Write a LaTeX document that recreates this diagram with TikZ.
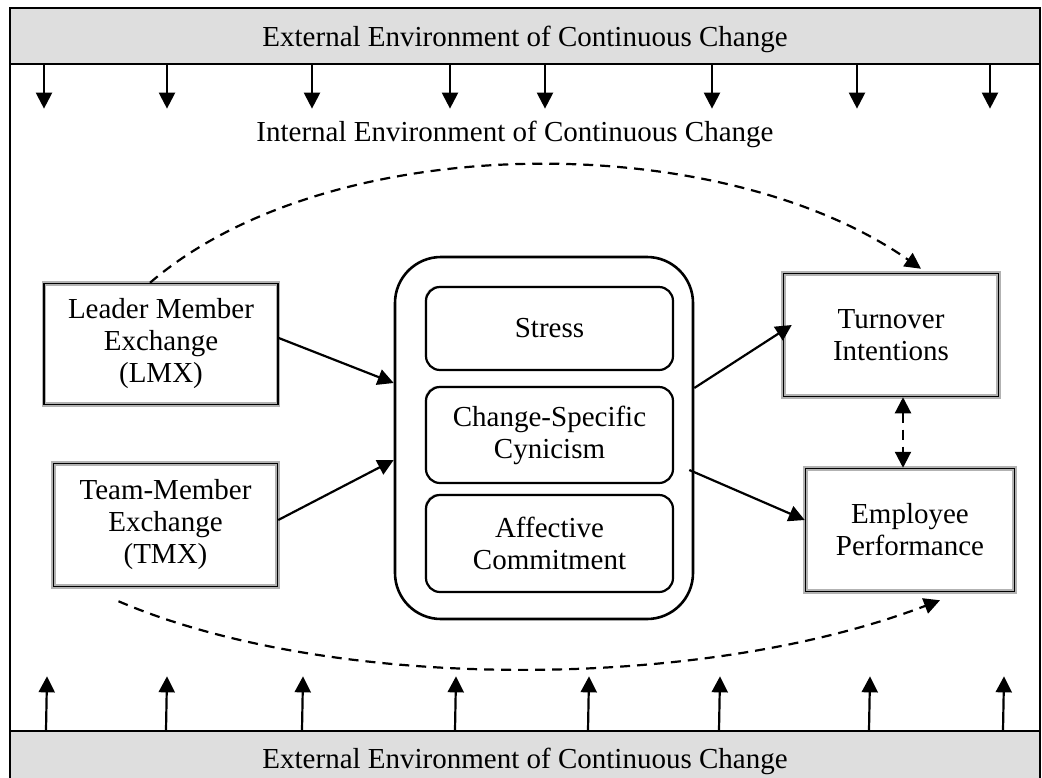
\documentclass[tikz,border=0pt]{standalone}
\usepackage{fontspec}
\setmainfont{Liberation Serif}
\usetikzlibrary{arrows.meta,calc,shadows}
\begin{document}
\begin{tikzpicture}[x=1pt,y=-1pt,
  txt/.style={font=\fontsize{29}{32}\selectfont, align=center},
  bar/.style={txt, draw=black, line width=1.3pt, fill=black!13, inner sep=0pt},
  dbox/.style={txt, draw=gray!60, line width=1.5pt, double=black, double distance=1.6pt, fill=white, inner sep=0pt,
     drop shadow={fill=black, opacity=1, shadow xshift=2.2pt, shadow yshift=-2.2pt}},
  rbox/.style={txt, draw=black, line width=2.2pt, rounded corners=14pt, fill=white, inner sep=0pt,
     drop shadow={fill=gray!60, opacity=1, shadow xshift=-1.2pt, shadow yshift=1.2pt}},
  bigbox/.style={draw=black, line width=2.6pt, rounded corners=46pt, fill=white, inner sep=0pt},
  arr/.style={line width=2.2pt, -{Triangle[length=16pt,width=16pt]}},
  darr/.style={line width=2.2pt, dash pattern=on 10pt off 7pt, -{Triangle[length=16pt,width=16pt]}},
]
\useasboundingbox (0,0) rectangle (1042,777);
\fill[white] (0,0) rectangle (1042,777);

% frame
\draw[line width=1.3pt] (10,60) -- (10,735);
\draw[line width=1.3pt] (1040,60) -- (1040,735);

\node[bar, minimum width=1030pt, minimum height=56pt, text height=22pt, text depth=2pt] (topbar) at (525,36) {External Environment of Continuous Change};
\node[bar, minimum width=1030pt, minimum height=50pt, text height=28pt, text depth=4pt] (botbar) at (525,756) {External Environment of Continuous Change};

\node[txt] (internal) at (515,134) {Internal Environment of Continuous Change};

% down arrows
\foreach \x in {44,167,312,450,545,712,857,990}
  \draw[arr] (topbar.south -| \x,0) -- ++(0,44);
% up arrows
\foreach \x in {46,166,302,455,588,719,869,1003}
  \draw[arr] (botbar.north -| \x,0) -- ++(1,-54);

% left boxes
\node[dbox, minimum width=234pt, minimum height=121pt] (lmx) at (161,344) {Leader Member\\Exchange\\(LMX)};
\node[dbox, minimum width=224pt, minimum height=123pt] (tmx) at (165.5,525) {Team-Member\\Exchange\\(TMX)};

% right boxes
\node[dbox, minimum width=215pt, minimum height=123pt] (turn) at (891,335) {Turnover\\Intentions};
\node[dbox, minimum width=209pt, minimum height=123pt] (perf) at (910,530) {Employee\\Performance};

% central
\node[bigbox, minimum width=298pt, minimum height=362pt] (big) at (544,438) {};
\node[rbox, minimum width=247pt, minimum height=83pt] (stress) at (549.5,328.5) {Stress};
\node[rbox, minimum width=247pt, minimum height=96pt] (cyn) at (549.5,435) {Change-Specific\\Cynicism};
\node[rbox, minimum width=247pt, minimum height=97pt] (aff) at (549.5,543.5) {Affective\\Commitment};

% solid arrows
\coordinate (bigin1) at ($(big.west)+(0,-55)$);
\coordinate (bigin2) at ($(big.west)+(0,22)$);
\coordinate (bigout1) at ($(big.east)+(0,-50)$);
\coordinate (bigout2) at ($(big.east)+(-5,32)$);
\draw[arr] ($(lmx.east)+(0,-6)$) -- (bigin1);
\draw[arr] ($(tmx.east)+(0,-5)$) -- (bigin2);
\draw[arr] (bigout1) -- ($(turn.west)+(9,-10)$);
\draw[arr] (bigout2) -- ($(perf.west)+(0,-10)$);

% dashed
\draw[darr, {Triangle[length=16pt,width=16pt]}-{Triangle[length=16pt,width=16pt]}] (turn.south -| 903,0) -- (perf.north -| 903,0);
\draw[darr] ($(lmx.north)+(-11,0)$) .. controls (330,128) and (720,128) .. ($(turn.north)+(30,-4)$);
\draw[darr] ($(tmx.south)+(-47,14)$) .. controls (330,692) and (700,692) .. ($(perf.south)+(30,8)$);
\end{tikzpicture}
\end{document}
